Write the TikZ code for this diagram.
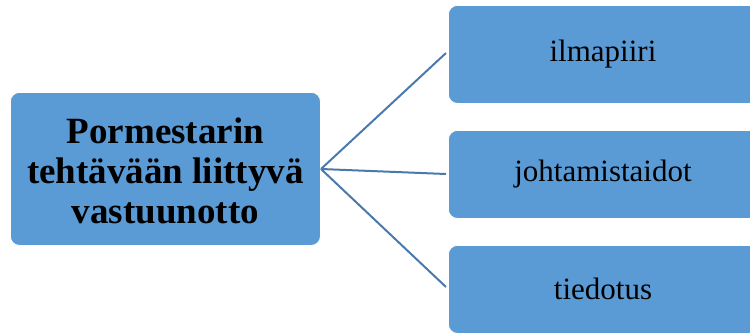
\documentclass[tikz,border=0pt]{standalone}
\usepackage{fontspec}
\setmainfont{Liberation Serif}
\begin{document}
\begin{tikzpicture}[x=1pt,y=-1pt,
  box/.style={draw=white, line width=0.8pt, fill=boxblue, rounded corners=9pt, inner sep=0pt, anchor=north west},
  conn/.style={draw=linkblue, line width=2pt}]
\definecolor{boxblue}{HTML}{5B9BD5}
\definecolor{linkblue}{HTML}{4A7AAB}
\useasboundingbox (0,0) rectangle (750,333);
\node[box, minimum width=310pt, minimum height=153pt] (main) at (10,92) {};
\node[font=\fontsize{37}{40}\selectfont\bfseries, align=center] at ([yshift=-2pt]main.center) {Pormestarin\\tehtävään liittyvä\\vastuunotto};
\node[box, minimum width=310pt, minimum height=98pt] (a) at (448,5) {};
\node[box, minimum width=310pt, minimum height=88pt] (b) at (448,130) {};
\node[box, minimum width=310pt, minimum height=88pt] (c) at (448,245) {};
\node[font=\fontsize{31}{36}\selectfont] at (603,54) {ilmapiiri};
\node[font=\fontsize{31}{36}\selectfont] at (603,174) {johtamistaidot};
\node[font=\fontsize{31}{36}\selectfont] at (603,289) {tiedotus};
\coordinate (hub) at (321,169);
\draw[conn] (hub) -- (446,53);
\draw[conn] (hub) -- (446,174);
\draw[conn] (hub) -- (446,287);
\end{tikzpicture}
\end{document}
